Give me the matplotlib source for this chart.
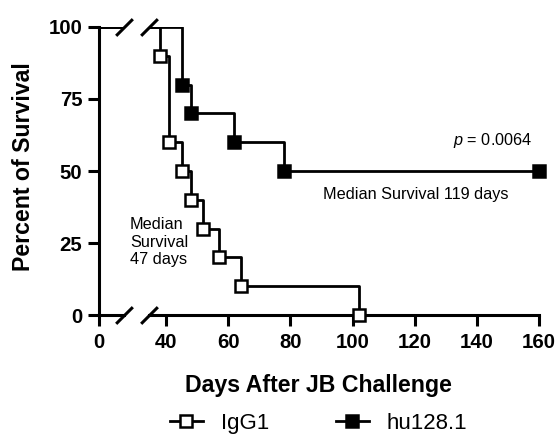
import numpy as np
import matplotlib
matplotlib.use('Agg')
import matplotlib.pyplot as plt
from matplotlib.lines import Line2D

plt.rcParams['font.family'] = ['Liberation Sans', 'DejaVu Sans']
plt.rcParams['mathtext.fontset'] = 'custom'
plt.rcParams['mathtext.it'] = 'Liberation Sans:italic'
plt.rcParams['mathtext.rm'] = 'Liberation Sans'

# Kaplan-Meier data (days, percent survival)
igg1_days = [0, 38, 41, 45, 48, 52, 57, 64, 102]
igg1_surv = [100, 90, 60, 50, 40, 30, 20, 10, 0]
hu_days = [0, 45, 48, 62, 78, 160]
hu_surv = [100, 80, 70, 60, 50, 50]

yticks = [0, 25, 50, 75, 100]
xticks_right = [40, 60, 80, 100, 120, 140, 160]

W, H = 557, 436
fig = plt.figure(figsize=(W / 100, H / 100), dpi=100)

bottom = 1 - 315 / H
height = 288 / H
axL = fig.add_axes([99 / W, bottom, 25 / W, height])
axR = fig.add_axes([149 / W, bottom, 390 / W, height], sharey=axL)

lw = 2.0
ms = 8
mew = 1.8

for ax in (axL, axR):
    ax.step(igg1_days, igg1_surv, where='post', color='black', lw=lw)
    ax.step(hu_days, hu_surv, where='post', color='black', lw=lw)
    ax.spines['top'].set_visible(False)
    ax.spines['right'].set_visible(False)
    ax.spines['bottom'].set_linewidth(2.2)
    ax.spines['left'].set_linewidth(2.2)
    ax.tick_params(length=8, width=2.2, labelsize=14.7)

# symbols only on the main segment
axR.plot(igg1_days[1:], igg1_surv[1:], ls='none', marker='s', ms=ms,
         mfc='white', mec='black', mew=mew, clip_on=False, zorder=5)
axR.plot(hu_days[1:], hu_surv[1:], ls='none', marker='s', ms=ms,
         mfc='black', mec='black', mew=mew, clip_on=False, zorder=5)

axL.set_xlim(0, 8)
axR.set_xlim(34.5, 160)
axL.set_ylim(0, 100)

axL.set_xticks([0])
axL.set_yticks(yticks)
axR.set_xticks(xticks_right)
axL.tick_params(axis='y', pad=4)
axL.tick_params(axis='x', pad=5)
axR.tick_params(axis='x', pad=5)
axR.spines['left'].set_visible(False)
axR.tick_params(axis='y', left=False, labelleft=False)
for ax in (axL, axR):
    for lab in ax.get_xticklabels() + ax.get_yticklabels():
        lab.set_fontweight('bold')

# break marks
bk = dict(marker=[(-1, -1), (1, 1)], markersize=12, linestyle='none',
          color='black', mec='black', mew=2.2, clip_on=False, zorder=6)
axL.plot([1, 1], [0, 1], transform=axL.transAxes, **bk)
axR.plot([0, 0], [0, 1], transform=axR.transAxes, **bk)

# annotations
axR.text(157.8, 60.5, r'$\it{p}$ = 0.0064', ha='right', va='center', fontsize=11.7)
axR.text(120.4, 42, 'Median Survival 119 days', ha='center', va='center', fontsize=11.7)
axR.text(28.4, 25.3, 'Median\nSurvival\n47 days', ha='left', va='center',
         fontsize=11.7, linespacing=1.2)

fig.text(24 / W, 1 - 167 / H, 'Percent of Survival', rotation=90, ha='center',
         va='center', fontsize=16.7, fontweight='bold')
fig.text(318 / W, 1 - 392 / H, 'Days After JB Challenge', ha='center',
         va='baseline', fontsize=16.7, fontweight='bold')

handles = [
    Line2D([], [], color='black', lw=lw, marker='s', ms=ms, mfc='white', mec='black', mew=mew),
    Line2D([], [], color='black', lw=lw, marker='s', ms=ms, mfc='black', mec='black', mew=mew),
]
fig.legend(handles, ['IgG1', 'hu128.1'], loc='center', bbox_to_anchor=(318.5 / W, 1 - 423 / H),
           ncol=2, frameon=False, fontsize=16, handlelength=1.5, handletextpad=0.8,
           columnspacing=3.0, numpoints=1, borderpad=0, borderaxespad=0)

fig.savefig('out.png', dpi=100)
